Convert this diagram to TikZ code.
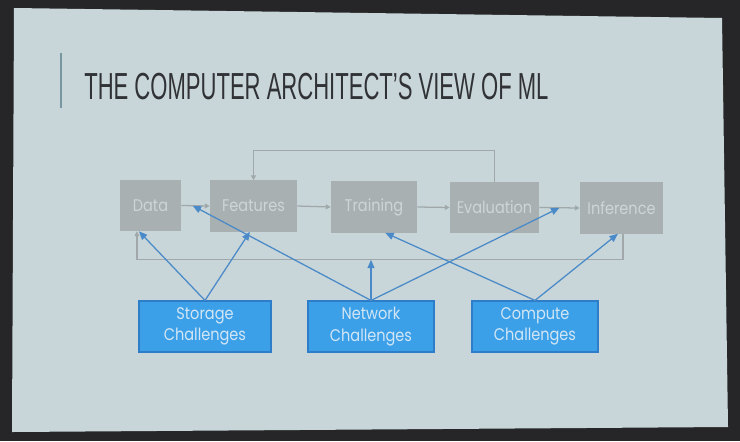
\documentclass[tikz,border=0pt]{standalone}
\usepackage{fontspec}
\newfontfamily\titlefont[FakeStretch=0.585]{Liberation Sans}
\newfontfamily\boxfont[FakeStretch=0.86]{Poppins}
\usepackage{tikz}
\usetikzlibrary{arrows.meta,calc}
\definecolor{roomdark}{RGB}{38,38,40}
\definecolor{slidebg}{RGB}{200,214,217}
\definecolor{stagegray}{RGB}{168,176,178}
\definecolor{stagetext}{RGB}{206,213,215}
\definecolor{linkgray}{RGB}{160,168,170}
\definecolor{challblue}{RGB}{60,160,232}
\definecolor{challedge}{RGB}{45,125,200}
\definecolor{challtext}{RGB}{210,230,245}
\definecolor{hitblue}{RGB}{75,138,200}
\definecolor{titleink}{RGB}{48,50,54}
\definecolor{accentbar}{RGB}{120,150,160}

\begin{document}
\begin{tikzpicture}[x=0.025cm, y=-0.025cm,
    stage/.style={fill=stagegray, text=stagetext, minimum height=1.275cm, inner sep=0pt,
        font=\boxfont\fontsize{12}{15}\selectfont},
    challenge/.style={fill=challblue, draw=challedge, line width=0.8pt, text=challtext,
        minimum height=1.275cm, inner sep=0pt, align=center, font=\boxfont\fontsize{12}{15}\selectfont},
    flow/.style={draw=linkgray, line width=0.9pt, -{Triangle[length=3.5pt,width=3.5pt]}},
    hit/.style={draw=hitblue, line width=0.9pt, -{Triangle[length=6pt,width=5pt]}}]
                    \useasboundingbox (0,0) rectangle (740,441);
                    \fill[roomdark] (0,0) rectangle (740,441);
                    \fill[slidebg] (14,8) -- (722,18) -- (728,427) -- (12,432) -- cycle;
                    \draw[accentbar, line width=1.5pt] (61,53) -- (61,108);
                    \node[anchor=base west, inner sep=0pt, text=titleink, font=\titlefont\fontsize{26.8}{30}\selectfont] (title) at (84,99) {THE COMPUTER ARCHITECT’S VIEW OF ML};

                    \node[stage, minimum width=1.525cm] (data) at (150.5,205.5) {Data};
                    \node[stage, minimum width=2.175cm] (features) at (253.5,206) {Features};
                    \node[stage, minimum width=2.15cm] (training) at (374,207) {Training};
                    \node[stage, minimum width=2.225cm] (evaluation) at (494.5,207.5) {Evaluation};
                    \node[stage, minimum width=2.075cm] (inference) at (621.5,208) {Inference};

                    \node[challenge, minimum width=3.3cm] (storage) at (205,326.5) {Storage\\Challenges};
                    \node[challenge, minimum width=3.15cm] (network) at (371,326.5) {Network\\Challenges};
                    \node[challenge, minimum width=3.15cm] (compute) at (535,326.5) {Compute\\Challenges};

                    \draw[flow] (data.east) -- (features.west);
                    \draw[flow] (features.east) -- (training.west);
                    \draw[flow] (training.east) -- (evaluation.west);
                    \draw[flow] (evaluation.east) -- (inference.west);
                    \draw[flow] (evaluation.north) -- ++(0,-31) -| (features.north);
                    \coordinate (loopright) at ($(inference.south)+(1.5,26)$);
                    \draw[flow] (inference.south -| loopright) -- (loopright) -| ([xshift=-0.34cm]data.south);

                    \draw[hit] (storage.north) -- ([xshift=-0.29cm]data.south);
                    \draw[hit] (storage.north) -- ([xshift=-0.09cm]features.south);
                    \draw[hit] (network.north) -- ($(data.east)!0.4!(features.west)$);
                    \draw[hit] (network.north) -- (network.north |- loopright);
                    \draw[hit] (network.north) -- ($(evaluation.east)!0.5!(inference.west)$);
                    \draw[hit] (compute.north) -- ([xshift=0.28cm]training.south);
                    \draw[hit] (compute.north) -- ([xshift=-0.09cm]inference.south);
                \end{tikzpicture}
\end{document}
